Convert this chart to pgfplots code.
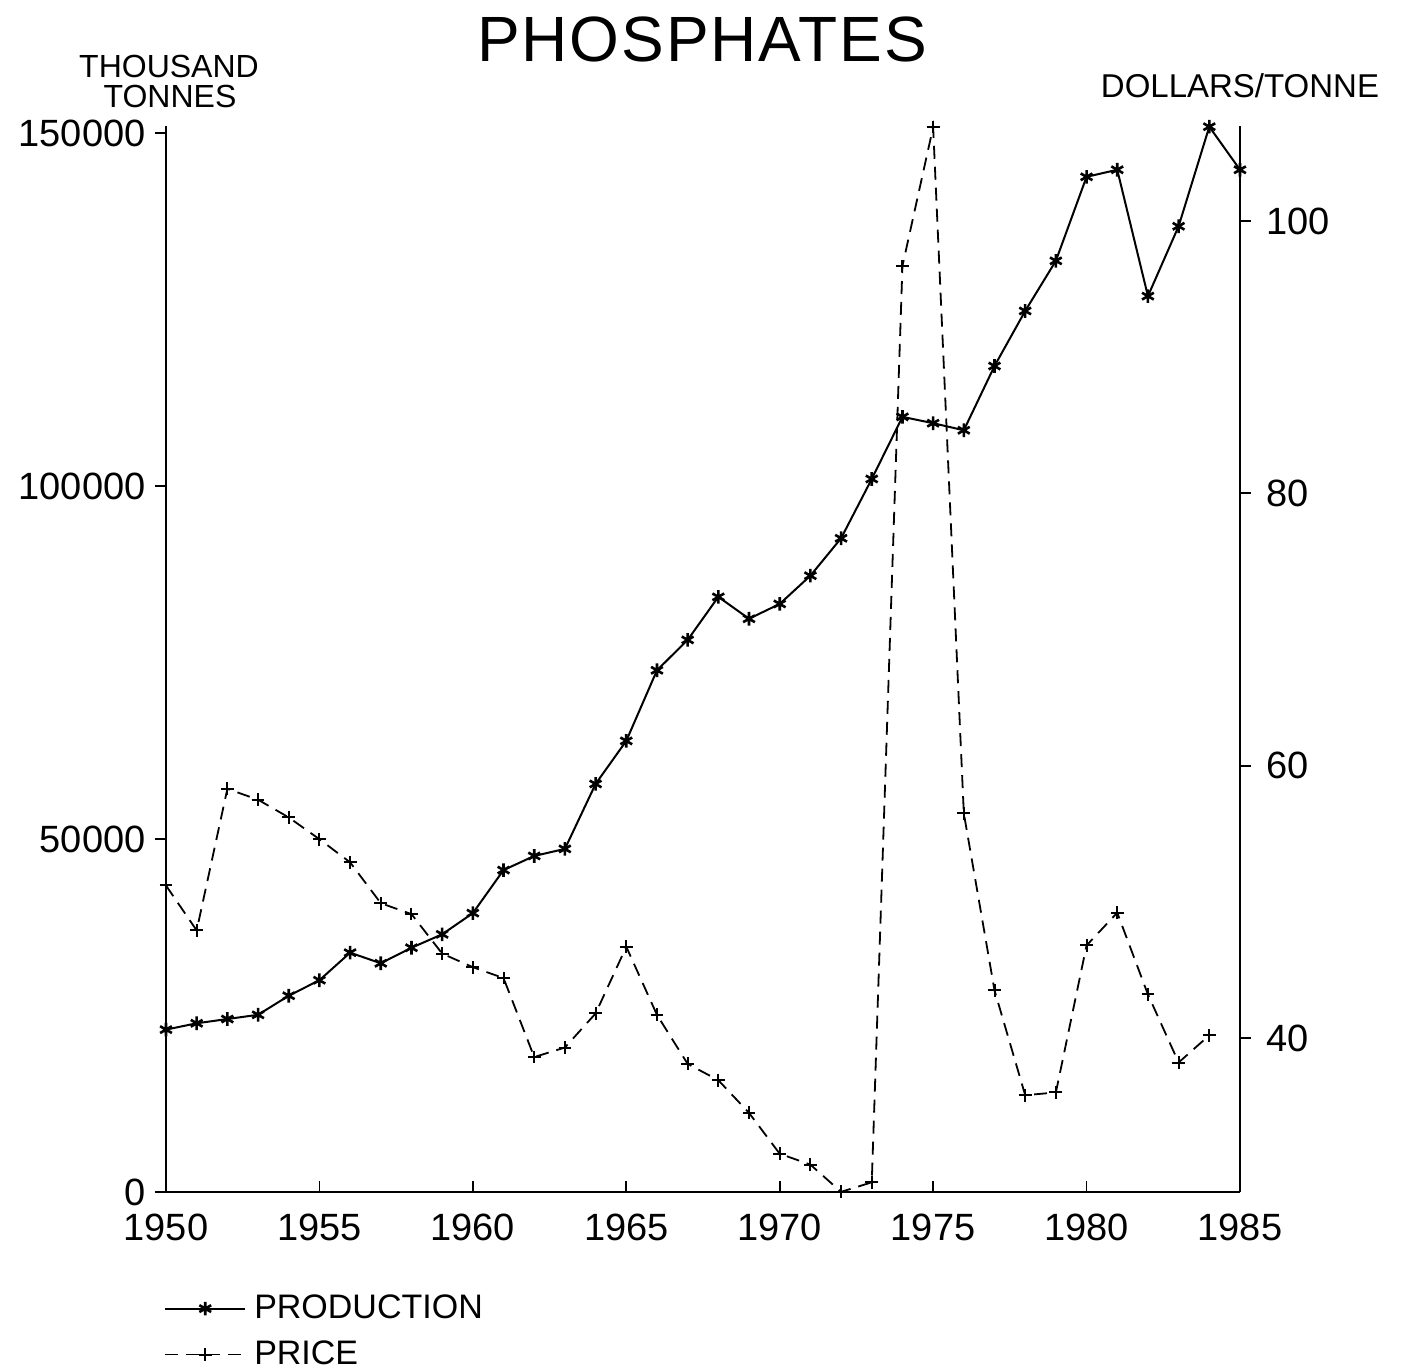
\documentclass[border=0pt]{standalone}
\usepackage{fontspec}
\setmainfont{Liberation Sans}
\usepackage{pgfplots}
\pgfplotsset{compat=1.18}
\begin{document}
\begin{tikzpicture}
\path[use as bounding box] (-83pt,-89.5pt) rectangle (619.5pt,596pt);
\begin{axis}[
  at={(0pt,0pt)}, anchor=south west,
  scale only axis, width=537pt, height=533pt,
  xmin=1950, xmax=1985, ymin=0, ymax=151000,
  axis x line=bottom, axis y line=left,
  axis line style={-, line width=0.9pt},
  xtick={1950,1955,...,1985}, ytick={0,50000,100000,150000},
  tick align=inside, major tick length=5.5pt,
  ytick style={xshift=-5.5pt},
  every tick/.style={line width=0.9pt, black},
  scaled y ticks=false,
  /pgf/number format/fixed,
  /pgf/number format/1000 sep={},
  /pgf/number format/assume math mode=true,
  ticklabel style={font=\fontsize{19}{19}\selectfont},
  yticklabel style={xshift=-6.7pt},
  xticklabel style={yshift=-7.7pt},
  clip=false,
]
\addplot[black, line width=1pt, mark=asterisk, mark size=3.4pt, mark options={solid, line width=1.3pt}] coordinates {
(1950,23000)(1951,23900)(1952,24500)(1953,25100)(1954,27800)(1955,30000)
(1956,33900)(1957,32400)(1958,34600)(1959,36500)(1960,39500)(1961,45600)
(1962,47600)(1963,48600)(1964,57800)(1965,63900)(1966,73900)(1967,78200)
(1968,84300)(1969,81200)(1970,83300)(1971,87300)(1972,92600)(1973,101000)
(1974,109800)(1975,108900)(1976,107900)(1977,117000)(1978,124800)(1979,131900)
(1980,143800)(1981,144800)(1982,126900)(1983,136800)(1984,150900)(1985,144800)
};
\end{axis}
\begin{axis}[
  at={(0pt,0pt)}, anchor=south west,
  scale only axis, width=537pt, height=533pt,
  xmin=1950, xmax=1985, ymin=28.69, ymax=106.98,
  axis x line=none, axis y line=right,
  axis line style={-, line width=0.9pt},
  ytick={40,60,80,100},
  tick align=outside, major tick length=5.5pt,
  every tick/.style={line width=0.9pt, black},
  /pgf/number format/fixed,
  /pgf/number format/assume math mode=true,
  ticklabel style={font=\fontsize{19}{19}\selectfont},
  yticklabel style={xshift=4pt},
  clip=false,
  legend style={at={(axis description cs:-0.002,-0.0946)}, anchor=north west,
    draw=none, fill=none, inner sep=0pt, row sep=7.6pt, column sep=3pt,
    font=\fontsize{17}{17}\selectfont, nodes={inner sep=1pt}},
  legend cell align=left,
  legend image code/.code={\draw[mark repeat=2,mark phase=2,#1] plot coordinates {(0pt,0pt)(20pt,0pt)(40pt,0pt)};},
]
\addlegendimage{black, line width=1pt, mark=asterisk, mark size=3.4pt, mark options={solid, line width=1.3pt}}
\addlegendentry{PRODUCTION}
\addplot[black, line width=0.9pt, dash pattern=on 6.5pt off 4pt, mark=+, mark size=3.2pt, mark options={solid, line width=1pt}] coordinates {
(1950,51.2)(1951,47.9)(1952,58.3)(1953,57.5)(1954,56.2)(1955,54.6)
(1956,52.9)(1957,49.9)(1958,49.1)(1959,46.2)(1960,45.2)(1961,44.4)
(1962,38.6)(1963,39.3)(1964,41.8)(1965,46.7)(1966,41.7)(1967,38.1)
(1968,36.9)(1969,34.5)(1970,31.5)(1971,30.7)(1972,28.7)(1973,29.4)
(1974,96.7)(1975,106.9)(1976,56.5)(1977,43.5)(1978,35.8)(1979,36.0)
(1980,46.8)(1981,49.2)(1982,43.2)(1983,38.2)(1984,40.2)
};
\addlegendentry{PRICE}
\end{axis}
\node[anchor=base, font=\fontsize{32}{32}\selectfont\addfontfeature{LetterSpace=3}] at (268pt,565pt) {PHOSPHATES};
\node[anchor=base, font=\fontsize{16}{16}\selectfont] at (1.5pt,557pt) {THOUSAND};
\node[anchor=base, font=\fontsize{16}{16}\selectfont] at (2pt,542pt) {TONNES};
\node[anchor=base, font=\fontsize{16.5}{16.5}\selectfont] at (537pt,547pt) {DOLLARS/TONNE};
\end{tikzpicture}
\end{document}
